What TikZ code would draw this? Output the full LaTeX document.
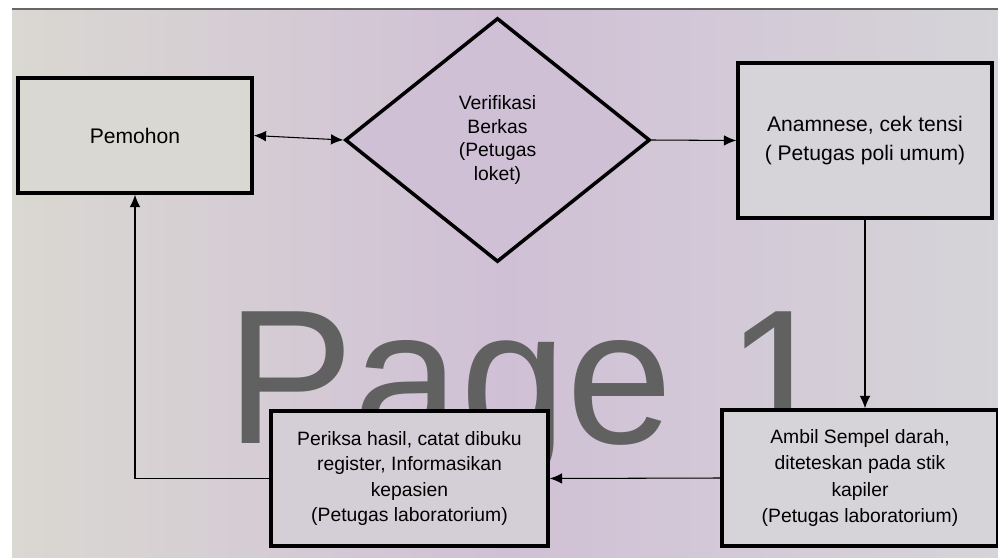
\documentclass[tikz,border=0pt]{standalone}
\usepackage{fontspec}
\setmainfont{Liberation Sans}
\usetikzlibrary{shapes.geometric,arrows.meta}
\definecolor{screenleft}{RGB}{218,216,210}
\definecolor{screenmid}{RGB}{208,192,214}
\definecolor{screenright}{RGB}{214,212,216}
\definecolor{boxfill}{RGB}{212,206,214}

\begin{document}
\begin{tikzpicture}[x=0.02cm,y=-0.02cm,
		box/.style={draw,line width=2pt,fill=boxfill,align=center,inner sep=2pt},
		check/.style={draw,line width=2pt,fill=screenmid,diamond,inner sep=0pt,align=center,
			font=\fontsize{11}{13.3}\selectfont},
		flow/.style={line width=0.6pt,-{Latex[length=7pt,width=6pt]}}]
						\useasboundingbox (0,0) rectangle (998,558);
						\fill[white] (0,0) rectangle (998,558);
						\shade[left color=screenleft,right color=screenright,middle color=screenmid] (12,9) rectangle (998,558);
						\draw[black!60,line width=0.8pt] (12,9) -- (998,9);
						\node[anchor=base west,text=black!62,font=\fontsize{109}{120}\selectfont] (wm) at (220,443) {Page 1};
						\node[box,fill=screenleft,minimum width=4.68cm,minimum height=2.3cm,font=\fontsize{12}{14}\selectfont] (pemohon) at (135,135.5) {Pemohon};
						\node[check,minimum width=6.1cm,minimum height=4.88cm] (verif) at (497.5,140) {Verifikasi\\Berkas\\(Petugas\\loket)};
						\node[box,fill=screenright,minimum width=5.08cm,minimum height=3.1cm,font=\fontsize{12}{17}\selectfont] (anam) at (865,140.5) {Anamnese, cek tensi\\( Petugas poli umum)};
						\node[box,fill=screenright,minimum width=5.52cm,minimum height=2.72cm,font=\fontsize{11}{15}\selectfont] (ambil) at (860,478) {Ambil Sempel darah,\\diteteskan pada stik\\kapiler\\(Petugas laboratorium)};
						\node[box,minimum width=5.54cm,minimum height=2.7cm,font=\fontsize{11}{14.5}\selectfont] (periksa) at (409.5,478.5) {Periksa hasil, catat dibuku\\register, Informasikan\\kepasien\\(Petugas laboratorium)};
						\draw[line width=0.6pt,{Latex[length=7pt,width=6pt]}-{Latex[length=7pt,width=6pt]}] (pemohon.east) -- (verif.west);
						\draw[flow] (verif.east) -- (anam.west);
						\draw[flow] (anam.south) -- (anam.south |- ambil.north);
						\draw[flow] (ambil.west) -- (periksa.east);
						\draw[flow] (periksa.west) -| (pemohon.south);
					\end{tikzpicture}
\end{document}
